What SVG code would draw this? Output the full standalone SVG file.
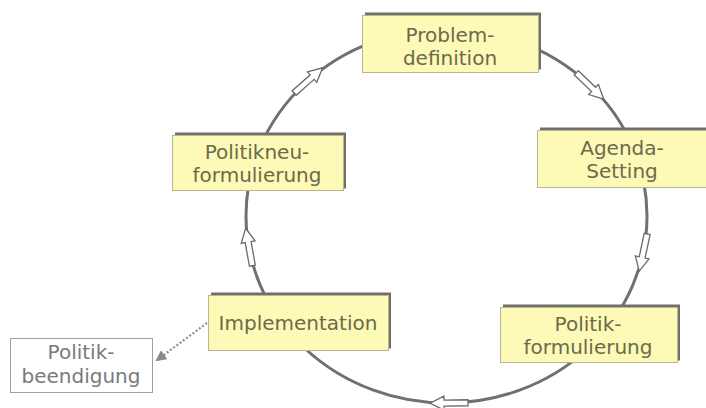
<svg xmlns="http://www.w3.org/2000/svg" width="706" height="408" viewBox="0 0 706 408">
<defs>
<style>
.box{fill:#fdf9b6;stroke:#b9b690;stroke-width:1}
.sh{fill:#707068}
.t{font-family:"DejaVu Sans",Verdana,sans-serif;font-size:20px;fill:#6b6a4c;text-anchor:middle}
.tg{font-family:"DejaVu Sans",Verdana,sans-serif;font-size:20px;fill:#7a7a7a;text-anchor:middle}
.cyc{fill:none;stroke:#707070;stroke-width:3}
.ha{fill:#ffffff;stroke:#6a6a6a;stroke-width:1.3}
</style>
<path id="harrow" d="M-19,-3 L5,-3 L5,-7 L19,0 L5,7 L5,3 L-19,3 Z"/>
<marker id="tri" markerWidth="11" markerHeight="11" refX="9" refY="5.5" orient="auto" markerUnits="userSpaceOnUse">
<path d="M0,0 L11,5.5 L0,11 Z" fill="#8a8a8a"/>
</marker>
</defs>
<rect width="706" height="408" fill="#ffffff"/>
<g id="connectors">
<ellipse class="cyc" cx="446.5" cy="216" rx="200.5" ry="187"/>
<use href="#harrow" class="ha" transform="translate(308.4,80.4) rotate(-41.5)"/>
<use href="#harrow" class="ha" transform="translate(590,86) rotate(43.9)"/>
<use href="#harrow" class="ha" transform="translate(643.2,252.5) rotate(102)"/>
<use href="#harrow" class="ha" transform="translate(449,403) rotate(179.3)"/>
<use href="#harrow" class="ha" transform="translate(249,247) rotate(-100.2)"/>
<line x1="207" y1="323" x2="157" y2="360" stroke="#8a8a8a" stroke-width="2.2" stroke-dasharray="2,2" marker-end="url(#tri)"/>
</g>
<g id="problemdefinition">
<rect class="sh" x="365" y="12.5" width="176" height="57"/>
<rect class="box" x="362.5" y="15.5" width="176" height="57"/>
<text class="t" x="450" y="42">Problem-</text>
<text class="t" x="450" y="65">definition</text>
</g>
<g id="agendasetting">
<rect class="sh" x="540" y="127.5" width="176" height="57"/>
<rect class="box" x="537.5" y="130.5" width="176" height="57"/>
<text class="t" x="622" y="155">Agenda-</text>
<text class="t" x="622" y="178">Setting</text>
</g>
<g id="politikneuformulierung">
<rect class="sh" x="175" y="132.5" width="171" height="56"/>
<rect class="box" x="172.5" y="135.5" width="171" height="55"/>
<text class="t" x="257" y="159">Politikneu-</text>
<text class="t" x="257" y="182">formulierung</text>
</g>
<g id="implementation">
<rect class="sh" x="211" y="292.5" width="180" height="56"/>
<rect class="box" x="208.5" y="295.5" width="180" height="55"/>
<text class="t" x="298" y="330">Implementation</text>
</g>
<g id="politikformulierung">
<rect class="sh" x="503" y="304.5" width="177" height="56"/>
<rect class="box" x="500.5" y="307.5" width="177" height="55"/>
<text class="t" x="588" y="331">Politik-</text>
<text class="t" x="588" y="354">formulierung</text>
</g>
<g id="politikbeendigung">
<rect x="10.5" y="338.5" width="142" height="54" fill="#ffffff" stroke="#a0a0a0" stroke-width="1"/>
<text class="tg" x="81" y="359">Politik-</text>
<text class="tg" x="81" y="383">beendigung</text>
</g>
</svg>
